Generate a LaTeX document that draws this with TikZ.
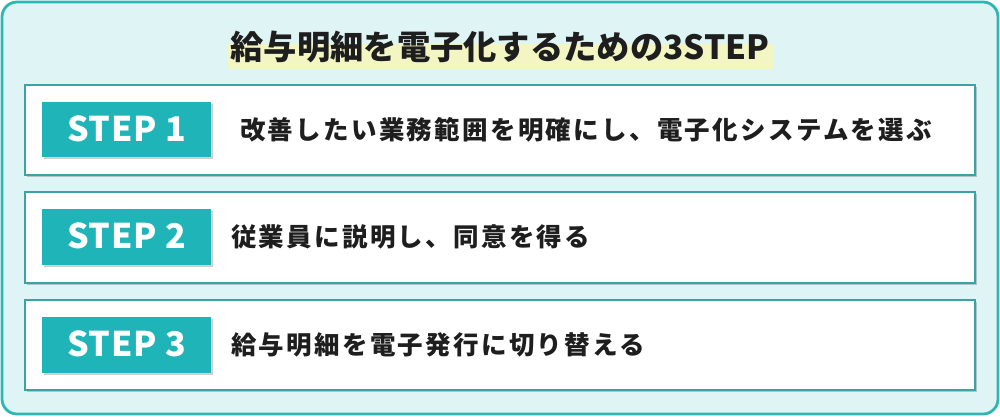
\documentclass[tikz,border=0pt]{standalone}
\usepackage{fontspec}
\setmainfont{Noto Sans CJK JP}
\newfontfamily\rowfont{Noto Sans CJK JP}[LetterSpace=9]
\newfontfamily\badgefont{Noto Sans CJK JP}[LetterSpace=2]
\usetikzlibrary{shadows}
\definecolor{teal1}{HTML}{2CB6B4}
\definecolor{bgc}{HTML}{DFF4F4}
\definecolor{rowline}{HTML}{3BA3A3}
\definecolor{badgec}{HTML}{1FB5B8}
\definecolor{hl}{HTML}{F3F5C2}
\definecolor{txt}{HTML}{1E1E1E}
\tikzset{
  rowbox/.style={draw=rowline, line width=1.2pt, fill=white,
    drop shadow={shadow xshift=2pt, shadow yshift=-2pt, opacity=0.35, fill=black!60}},
  badge/.style={fill=badgec,
    drop shadow={shadow xshift=1.5pt, shadow yshift=-1.5pt, opacity=0.3, fill=black!60}},
  badgetext/.style={text=white, font=\badgefont\fontsize{34}{38}\selectfont\bfseries, inner sep=0pt},
  rowtext/.style={text=txt, font=\rowfont\fontsize{25.5}{30}\selectfont\bfseries, anchor=west, inner sep=0pt},
}
\begin{document}
\begin{tikzpicture}[x=1pt,y=-1pt]
\useasboundingbox (0,0) rectangle (1000,416);
\draw[draw=teal1, line width=2.8pt, fill=bgc, rounded corners=15pt] (2,2) rectangle (998,414);
% title
\fill[hl] (228,44) rectangle (773,69);
\node[text=txt, font=\fontsize{33.3}{38}\selectfont\bfseries, inner sep=0pt] (title) at (500,47) {給与明細を電子化するための3STEP};
% rows
\path[rowbox] (25,85) rectangle (975,175);
\path[rowbox] (25,192) rectangle (975,283);
\path[rowbox] (25,300) rectangle (975,390);
% badges
\path[badge] (42,102) rectangle (211,157);
\path[badge] (42,209) rectangle (211,265);
\path[badge] (42,317) rectangle (211,373);
\node[badgetext] (s1) at (126.5,129) {STEP 1};
\node[badgetext] (s2) at (126.5,236) {STEP 2};
\node[badgetext] (s3) at (126.5,344) {STEP 3};
\node[rowtext] (t1) at (240,130) {改善したい業務範囲を明確にし、電子化システムを選ぶ};
\node[rowtext] (t2) at (231,237) {従業員に説明し、同意を得る};
\node[rowtext] (t3) at (231,345) {給与明細を電子発行に切り替える};
\end{tikzpicture}
\end{document}
